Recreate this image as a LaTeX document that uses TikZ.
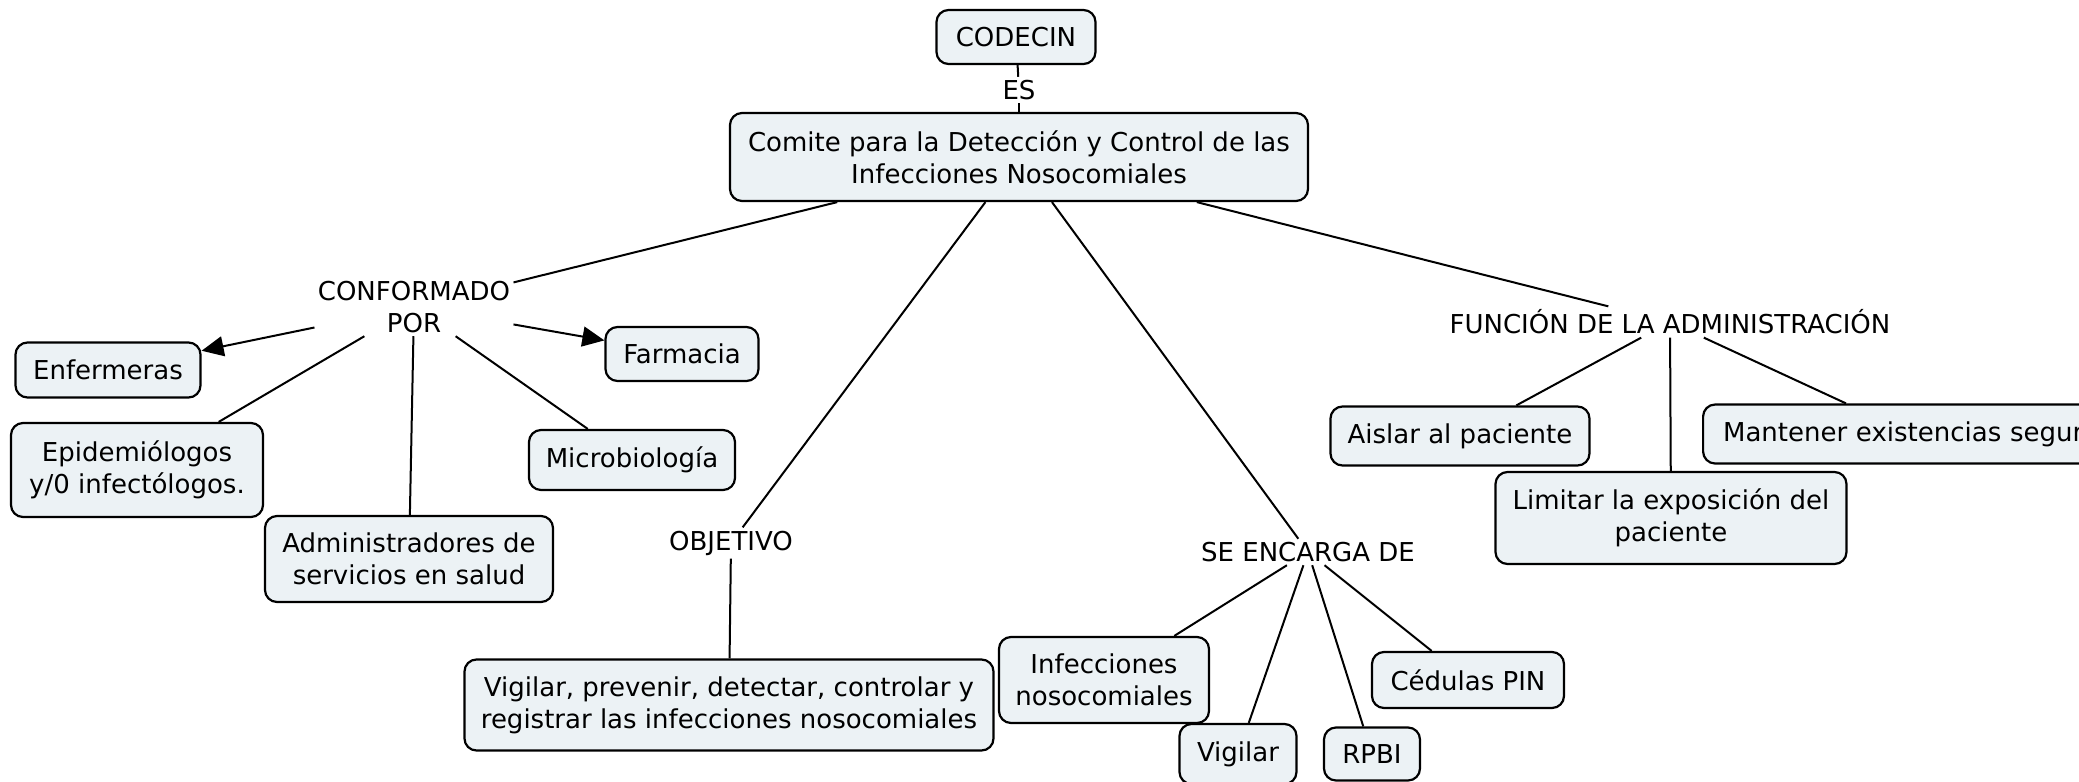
\documentclass[tikz,border=0pt]{standalone}
\usepackage{fontspec}
\setmainfont{DejaVu Sans}
\usetikzlibrary{arrows.meta}
\definecolor{boxfill}{HTML}{ECF2F5}
\begin{document}
\begin{tikzpicture}[x=0.5pt,y=-0.5pt,
 box/.style={draw=black, line width=1.1pt, fill=boxfill, rounded corners=6pt, align=center, inner sep=0pt, font=\fontsize{13}{16}\selectfont},
 lbl/.style={inner sep=1.5pt, align=center, font=\fontsize{13}{16}\selectfont},
 conn/.style={draw=black, line width=1pt},
 arr/.style={conn, -{Triangle[length=11pt,width=10pt]}}]
\useasboundingbox (0,0) rectangle (2079,782);
\clip (0,0) rectangle (2079,782);
% boxes
\node[box, minimum width=79.5pt, minimum height=27pt] (codecin) at (1016,37) {CODECIN};
\node[box, minimum width=289pt, minimum height=44pt] (main) at (1019,157) {Comite para la Detección y Control de las\\Infecciones Nosocomiales};
\node[box, minimum width=92.5pt, minimum height=27.5pt] (enf) at (108,370) {Enfermeras};
\node[box, minimum width=76.5pt, minimum height=27pt] (farm) at (682,354) {Farmacia};
\node[box, minimum width=126pt, minimum height=47pt] (epi) at (137,470) {Epidemiólogos\\y/0 infectólogos.};
\node[box, minimum width=144pt, minimum height=43pt] (adm) at (409,559) {Administradores de\\servicios en salud};
\node[box, minimum width=103pt, minimum height=30pt] (micro) at (632,460) {Microbiología};
\node[box, minimum width=264.5pt, minimum height=45.5pt] (vigprev) at (729,705) {Vigilar, prevenir, detectar, controlar y\\registrar las infecciones nosocomiales};
\node[box, minimum width=105pt, minimum height=43pt] (infec) at (1104,680) {Infecciones\\nosocomiales};
\node[box, minimum width=58.5pt, minimum height=30pt] (vig) at (1238,754) {Vigilar};
\node[box, minimum width=48pt, minimum height=26.5pt] (rpbi) at (1372,754) {RPBI};
\node[box, minimum width=96pt, minimum height=28pt] (ced) at (1468,680) {Cédulas PIN};
\node[box, minimum width=129.5pt, minimum height=29.5pt] (aislar) at (1460,436) {Aislar al paciente};
\node[box, minimum width=175.5pt, minimum height=46pt] (limitar) at (1671,518) {Limitar la exposición del\\paciente};
\node[box, anchor=west, text width=189pt, align=left, inner xsep=10pt, minimum height=29.5pt] (mant) at (1702,434) {Mantener existencias segur};
% labels
\node[lbl] (es) at (1019,90) {ES};
\node[lbl] (conf) at (414,307) {CONFORMADO\\POR};
\node[lbl] (obj) at (731,543) {OBJETIVO};
\node[lbl] (seenc) at (1308,552) {SE ENCARGA DE};
\node[lbl] (func) at (1670,322) {FUNCIÓN DE LA ADMINISTRACIÓN};
% connectors
\draw[conn] (codecin) -- (es);
\draw[conn] (es) -- (main);
\draw[conn] (main) -- (conf);
\draw[arr] (conf) -- (enf);
\draw[arr] (conf) -- (farm);
\draw[conn] (conf) -- (epi);
\draw[conn] (conf) -- (adm);
\draw[conn] (conf) -- (micro);
\draw[conn] (main) -- (obj);
\draw[conn] (obj) -- (vigprev);
\draw[conn] (main) -- (seenc);
\draw[conn] (seenc) -- (infec);
\draw[conn] (seenc) -- (vig);
\draw[conn] (seenc) -- (rpbi);
\draw[conn] (seenc) -- (ced);
\draw[conn] (main) -- (func);
\draw[conn] (func) -- (aislar);
\draw[conn] (func) -- (limitar);
\draw[conn] (func) -- (mant);
\end{tikzpicture}
\end{document}
